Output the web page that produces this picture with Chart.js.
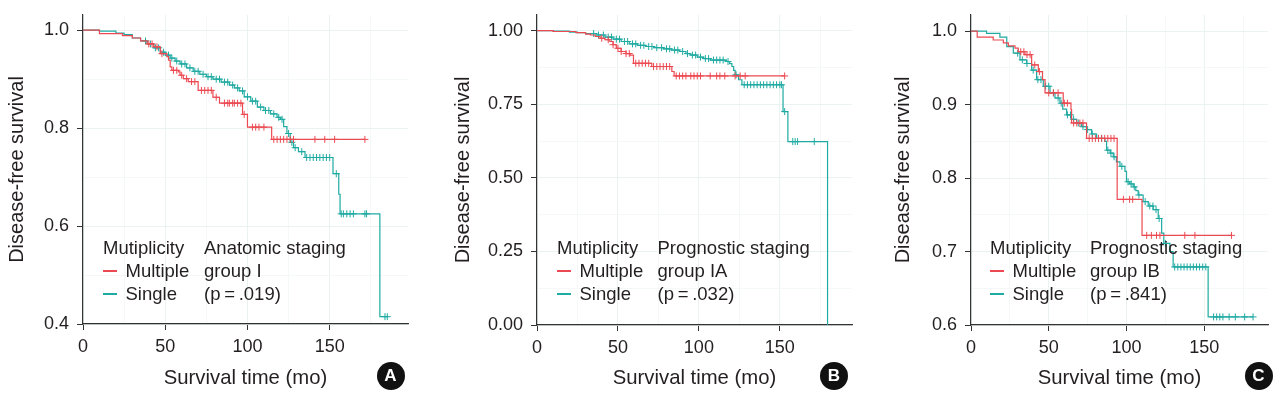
<!DOCTYPE html>
<html lang="en">
<head>
  <meta charset="UTF-8" />
  <title>Disease-free survival by multiplicity</title>
  <script src="https://cdn.jsdelivr.net/npm/chart.js"></script>
  <style>
    html, body { margin: 0; padding: 0; background: #fff; }
    body { font-family: 'Liberation Sans', Arial, sans-serif; color: #231f20; }
    #wrap { position: relative; width: 1285px; height: 399px; overflow: hidden; }
    canvas { position: absolute; top: 0; }
    .txt { position: absolute; font-size: 18.5px; line-height: 1; transform: translateY(-50%); white-space: nowrap; }
    .key { position: absolute; height: 1.5px; width: 14px; }
    .badge { position: absolute; width: 28px; height: 28px; border-radius: 50%; background: #111;
             color: #fff; font-weight: bold; font-size: 17px; line-height: 28px; text-align: center; }
  </style>
</head>
<body>
<div id="wrap">
  <canvas id="chartA" width="428" height="399" style="left:0px"></canvas>
  <canvas id="chartB" width="428" height="399" style="left:430px"></canvas>
  <canvas id="chartC" width="425" height="399" style="left:860px"></canvas>
</div>

<script>
  const RED = '#ec4a52';
  const TEAL = '#1faaa2';
  const xTicks = [0, 50, 100, 150];
  const xMinor = [25, 75, 125, 175];

  // ---- Panel A: anatomic staging group I
  const aYTicks = [0.4, 0.6, 0.8, 1.0];
  const aYMinor = [0.5, 0.7, 0.9];
  const aYLabels = ['0.4', '0.6', '0.8', '1.0'];
  const aMultTime = [0, 10, 24, 30, 35, 39, 43, 47, 51, 52, 53, 54, 58, 59, 61, 64, 70, 79, 83, 97, 100, 114.7, 171.4];
  const aMultSurv = [1, 0.993, 0.989, 0.984, 0.978, 0.972, 0.966, 0.952, 0.946, 0.939, 0.925, 0.918, 0.915, 0.908, 0.901, 0.895, 0.877, 0.863, 0.851, 0.828, 0.802, 0.777, 0.777];
  const aMultCens = [40, 42, 45, 48, 55, 57, 60, 63, 66, 68, 72, 74, 76, 78, 81, 86, 88, 89, 91, 92, 94, 96, 98, 103, 105, 107, 110, 116, 118, 120, 122, 124, 126, 128, 141, 147, 153, 171.4];
  const aSingTime = [0, 10, 20, 25, 30, 35, 39, 43, 47, 50, 53, 56, 59, 63, 67, 71, 75, 79, 84, 89, 92, 95, 98, 102, 106, 110, 114, 118, 120, 122, 124, 126, 128, 131, 135, 152, 155.5, 156.3, 180.5, 185];
  const aSingSurv = [1, 0.998, 0.994, 0.991, 0.984, 0.978, 0.972, 0.964, 0.955, 0.949, 0.943, 0.937, 0.931, 0.923, 0.916, 0.910, 0.905, 0.900, 0.894, 0.888, 0.882, 0.876, 0.864, 0.855, 0.843, 0.836, 0.829, 0.822, 0.818, 0.803, 0.789, 0.771, 0.760, 0.752, 0.740, 0.707, 0.665, 0.625, 0.415, 0.415];
  const aSingCens = [38, 41, 44, 46, 49, 52, 54, 57, 60, 62, 65, 68, 70, 73, 76, 78, 81, 83, 86, 88, 91, 94, 97, 100, 103, 105, 108, 111, 113, 116, 119, 121, 125, 127, 129, 133, 136, 138, 140, 142, 144, 146, 148, 150, 154, 157, 158.3, 160.4, 162.4, 164.4, 171.4, 172.4, 183.6, 185];

  // ---- Panel B: prognostic staging group IA
  const bYTicks = [0, 0.25, 0.5, 0.75, 1.0];
  const bYMinor = [0.125, 0.375, 0.625, 0.875];
  const bYLabels = ['0.00', '0.25', '0.50', '0.75', '1.00'];
  const bMultTime = [0, 10, 24, 30, 33, 36, 39, 42, 45, 47, 49, 52, 55, 57.5, 59.6, 70.9, 83.3, 84.7, 153];
  const bMultSurv = [1, 0.997, 0.993, 0.988, 0.985, 0.980, 0.974, 0.969, 0.963, 0.952, 0.940, 0.929, 0.922, 0.917, 0.889, 0.878, 0.861, 0.846, 0.846];
  const bMultCens = [40, 44, 47, 50, 52, 55, 57, 61, 63, 65, 67, 69, 72, 74, 76, 78, 80, 82, 86, 88, 90, 92, 95, 97, 99, 101, 107, 111, 113, 116, 122.4, 125.5, 128.6, 153];
  const bSingTime = [0, 10, 20, 25, 30, 37, 42, 47, 52, 57, 62, 67, 72, 78, 83, 88, 92, 95, 99, 103, 107, 117, 119, 120.4, 121.5, 122.4, 124.5, 126.6, 152, 155, 179.5];
  const bSingSurv = [1, 0.998, 0.995, 0.993, 0.990, 0.985, 0.978, 0.971, 0.963, 0.955, 0.950, 0.946, 0.942, 0.938, 0.934, 0.929, 0.922, 0.917, 0.910, 0.905, 0.900, 0.895, 0.888, 0.878, 0.865, 0.850, 0.833, 0.816, 0.725, 0.623, 0];
  const bSingCens = [35, 38, 41, 44, 46, 49, 51, 54, 56, 59, 61, 64, 66, 69, 71, 74, 77, 80, 82, 85, 87, 90, 93, 96, 98, 101, 104, 106, 109, 111, 113, 115, 118, 123, 128, 130, 132, 134, 136, 138, 140, 142, 144, 146, 148, 150, 151, 153, 158, 159.5, 161, 171.3];

  // ---- Panel C: prognostic staging group IB
  const cYTicks = [0.6, 0.7, 0.8, 0.9, 1.0];
  const cYMinor = [0.65, 0.75, 0.85, 0.95];
  const cYLabels = ['0.6', '0.7', '0.8', '0.9', '1.0'];
  const cMultTime = [0, 4, 14.3, 20.8, 24, 28.3, 30.4, 34.7, 39, 43.3, 46, 47.6, 59.3, 64.3, 64.7, 74.3, 94, 110, 167.5];
  const cMultSurv = [1, 0.992, 0.988, 0.984, 0.980, 0.977, 0.972, 0.968, 0.954, 0.945, 0.934, 0.916, 0.902, 0.893, 0.875, 0.854, 0.771, 0.722, 0.722];
  const cMultCens = [32, 34, 36, 38, 41, 44, 50, 53, 56, 60, 62, 66, 68, 70, 72, 76, 78, 80, 82, 84, 86, 88, 90, 92, 98, 102, 104, 113, 116, 119.3, 121.5, 137.5, 144, 167.5];
  const cSingTime = [0, 10, 18.6, 23, 27.2, 31.5, 35.8, 39, 42.2, 46.5, 50.8, 54, 57.2, 59, 61.5, 64.5, 67.9, 71, 74.3, 77.5, 80.8, 86.1, 87.2, 89.5, 91.5, 93.5, 95.8, 99, 100, 102, 104.3, 106, 107.5, 110.7, 114, 117.2, 120.4, 122.6, 124, 127.9, 130, 152.5, 181.4];
  const cSingSurv = [1, 0.997, 0.992, 0.979, 0.970, 0.961, 0.956, 0.947, 0.934, 0.925, 0.916, 0.909, 0.902, 0.894, 0.886, 0.880, 0.875, 0.870, 0.866, 0.860, 0.854, 0.850, 0.838, 0.834, 0.829, 0.822, 0.816, 0.809, 0.795, 0.792, 0.788, 0.783, 0.777, 0.768, 0.762, 0.757, 0.745, 0.725, 0.711, 0.700, 0.679, 0.611, 0.611];
  const cSingCens = [30, 33, 36, 40, 43, 45, 48, 50, 53, 56, 58, 62, 64, 66, 69, 72, 75, 78, 82, 84, 88, 90, 92, 97, 101, 103, 105, 108, 112, 115, 117, 119, 121, 125, 131, 133, 135, 137, 139, 141, 143, 145, 147, 149, 151, 156, 158, 160, 162, 166, 170, 176, 181.4];

  const legendTitle = 'Mutiplicity';
  const groups = ['Multiple', 'Single'];
  const yTitle = 'Disease-free survival';
  const xTitle = 'Survival time (mo)';

  function toPoints(times, surv) {
    return times.map((t, i) => ({ x: t, y: surv[i] }));
  }
  // censor marks sit on the step curve
  function survAt(times, surv, t) {
    let s = surv[0];
    for (let i = 0; i < times.length; i++) { if (times[i] <= t) s = surv[i]; }
    return s;
  }
  function censPoints(cens, times, surv) {
    return cens.map(t => ({ x: t, y: survAt(times, surv, t) }));
  }

  function makePanel(id, p) {
    const majorX = v => xTicks.includes(v);
    const majorY = v => p.yTicks.some(t => Math.abs(t - v) < 1e-9);
    new Chart(document.getElementById(id), {
      type: 'scatter',
      data: {
        datasets: [
          { data: toPoints(p.multT, p.multS), showLine: true, stepped: 'before', borderColor: RED, borderWidth: 1.2, pointRadius: 0 },
          { data: censPoints(p.multC, p.multT, p.multS), showLine: false, pointStyle: 'cross', pointRadius: 3.5, borderColor: RED, borderWidth: 1 },
          { data: toPoints(p.singT, p.singS), showLine: true, stepped: 'before', borderColor: TEAL, borderWidth: 1.2, pointRadius: 0 },
          { data: censPoints(p.singC, p.singT, p.singS), showLine: false, pointStyle: 'cross', pointRadius: 3.5, borderColor: TEAL, borderWidth: 1 }
        ]
      },
      options: {
        responsive: false,
        animation: false,
        layout: { padding: { left: 0, right: p.padRight, top: 15, bottom: 0 } },
        plugins: { legend: { display: false }, tooltip: { enabled: false } },
        scales: {
          x: {
            type: 'linear', min: 0, max: p.xMax,
            afterBuildTicks: s => { s.ticks = xTicks.concat(xMinor).sort((a, b) => a - b).map(v => ({ value: v })); },
            afterFit: s => { s.height = p.xAxisH; s.paddingLeft = 0; s.paddingRight = 0; },
            ticks: { autoSkip: false, maxRotation: 0, padding: 6, color: '#231f20', font: { size: 18, family: 'Liberation Sans' },
                     callback: v => majorX(v) ? String(v) : '' },
            grid: { color: c => majorX(c.tick.value) ? '#eaf2f2' : '#f4f8f8', tickLength: 6,
                    tickColor: c => majorX(c.tick.value) ? '#333' : 'rgba(0,0,0,0)' },
            border: { color: '#333', width: 1.2 },
            title: { display: true, text: xTitle, color: '#231f20', padding: { top: 0, bottom: 8 }, font: { size: 20.3, family: 'Liberation Sans' } }
          },
          y: {
            type: 'linear', min: p.yMin, max: p.yMax,
            afterBuildTicks: s => { s.ticks = p.yTicks.concat(p.yMinor).sort((a, b) => a - b).map(v => ({ value: v })); },
            afterFit: s => { s.width = p.yAxisW; s.paddingTop = 0; s.paddingBottom = 0; },
            ticks: { autoSkip: false, padding: 8, color: '#231f20', font: { size: 18, family: 'Liberation Sans' },
                     callback: v => { const i = p.yTicks.findIndex(t => Math.abs(t - v) < 1e-9); return i >= 0 ? p.yLabels[i] : ''; } },
            grid: { color: c => majorY(c.tick.value) ? '#eaf2f2' : '#f4f8f8', tickLength: 6,
                    tickColor: c => majorY(c.tick.value) ? '#333' : 'rgba(0,0,0,0)' },
            border: { color: '#333', width: 1.2 },
            title: { display: true, text: yTitle, color: '#231f20', padding: { top: p.yTitlePad, bottom: 0 }, font: { size: 20, family: 'Liberation Sans' } }
          }
        }
      }
    });
  }

  makePanel('chartA', { multT: aMultTime, multS: aMultSurv, multC: aMultCens, singT: aSingTime, singS: aSingSurv, singC: aSingCens,
    yTicks: aYTicks, yMinor: aYMinor, yLabels: aYLabels, yMin: 0.4, yMax: 1.031, xMax: 197.6,
    yAxisW: 83, xAxisH: 75, padRight: 20, yTitlePad: 5 });
  makePanel('chartB', { multT: bMultTime, multS: bMultSurv, multC: bMultCens, singT: bSingTime, singS: bSingSurv, singC: bSingCens,
    yTicks: bYTicks, yMinor: bYMinor, yLabels: bYLabels, yMin: 0, yMax: 1.053, xMax: 194.6,
    yAxisW: 107, xAxisH: 74, padRight: 6, yTitlePad: 21 });
  makePanel('chartC', { multT: cMultTime, multS: cMultSurv, multC: cMultCens, singT: cSingTime, singS: cSingSurv, singC: cSingCens,
    yTicks: cYTicks, yMinor: cYMinor, yLabels: cYLabels, yMin: 0.6, yMax: 1.022, xMax: 191,
    yAxisW: 111, xAxisH: 74, padRight: 17, yTitlePad: 31 });

  // legends, annotations and panel badges
  const wrap = document.getElementById('wrap');
  function addText(x, y, text) {
    const d = document.createElement('div');
    d.className = 'txt'; d.style.left = x + 'px'; d.style.top = y + 'px'; d.textContent = text;
    wrap.appendChild(d);
  }
  function addKey(x, y, color) {
    const d = document.createElement('div');
    d.className = 'key'; d.style.left = x + 'px'; d.style.top = (y - 0.75) + 'px'; d.style.background = color;
    wrap.appendChild(d);
  }
  function addBadge(x, y, letter) {
    const d = document.createElement('div');
    d.className = 'badge'; d.style.left = (x - 14) + 'px'; d.style.top = (y - 14) + 'px'; d.textContent = letter;
    wrap.appendChild(d);
  }
  const panels = [
    { lx: 103, nx: 204, note: ['Anatomic staging', 'group I', '(p\u2009=\u2009.019)'], bx: 390.5, letter: 'A' },
    { lx: 557, nx: 657.5, note: ['Prognostic staging', 'group IA', '(p\u2009=\u2009.032)'], bx: 834, letter: 'B' },
    { lx: 990, nx: 1090, note: ['Prognostic staging', 'group IB', '(p\u2009=\u2009.841)'], bx: 1258.5, letter: 'C' }
  ];
  const rowY = [248, 271, 294];
  panels.forEach(p => {
    addText(p.lx, rowY[0], legendTitle);
    addKey(p.lx, rowY[1], RED);
    addKey(p.lx, rowY[2], TEAL);
    addText(p.lx + 22.5, rowY[1], groups[0]);
    addText(p.lx + 22.5, rowY[2], groups[1]);
    p.note.forEach((t, i) => addText(p.nx, rowY[i], t));
    addBadge(p.bx, 376, p.letter);
  });
</script>
</body>
</html>
